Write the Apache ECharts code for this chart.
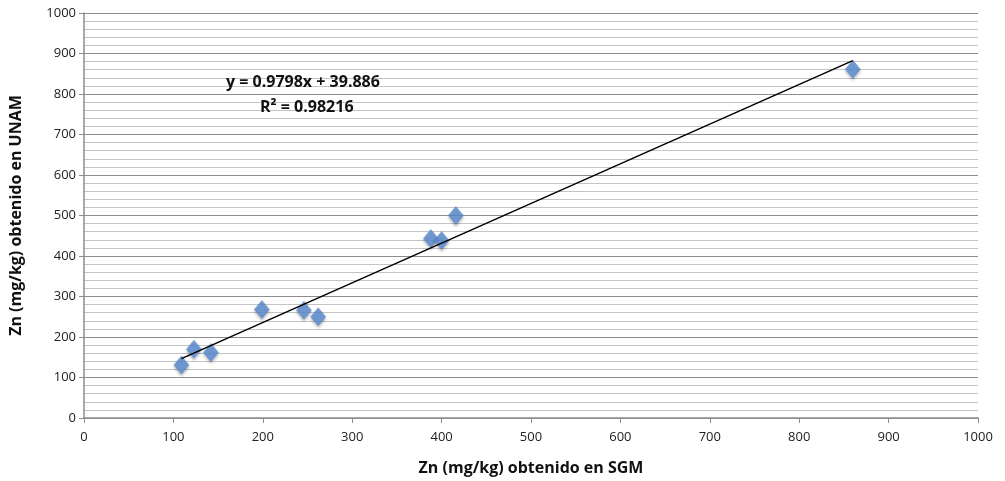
<!DOCTYPE html>
<html>
<head>
<meta charset="utf-8">
<script src="https://cdn.jsdelivr.net/npm/echarts@6/dist/echarts.min.js"></script>
<style>
  html, body { margin: 0; padding: 0; background: #fff; }
  #chart { width: 1005px; height: 481px; }
</style>
</head>
<body>
<div id="chart"></div>
<script>
// Zn concentrations (mg/kg): SGM lab (x) vs UNAM lab (y)
const znSGM  = [109, 123, 142, 199, 246, 262, 388, 400, 416, 860];
const znUNAM = [131, 170, 162, 268, 266, 250, 443, 438, 500, 861];

// Linear trend reported for the data
const slope = 0.9798;
const intercept = 39.886;
const rSquared = 0.98216;

const axisTicks = [0, 100, 200, 300, 400, 500, 600, 700, 800, 900, 1000];

const xTitle = 'Zn (mg/kg) obtenido en SGM';
const yTitle = 'Zn (mg/kg) obtenido en UNAM';

const points = znSGM.map((x, i) => [x, znUNAM[i]]);
const xMin = Math.min(...znSGM);
const xMax = Math.max(...znSGM);
const trend = [[xMin, slope * xMin + intercept], [xMax, slope * xMax + intercept]];

const font = '"Open Sans", sans-serif';
const plainNumber = v => String(v);

const chart = echarts.init(document.getElementById('chart'));
chart.setOption({
  animation: false,
  backgroundColor: '#ffffff',
  grid: { left: 82, right: 27, top: 13, bottom: 62 },
  xAxis: {
    type: 'value',
    min: axisTicks[0],
    max: axisTicks[axisTicks.length - 1],
    interval: 100,
    name: xTitle,
    nameLocation: 'middle',
    nameGap: 42,
    nameTextStyle: { fontFamily: font, fontSize: 16, fontWeight: 'bold', color: '#111' },
    axisLine: { lineStyle: { color: '#8c8c8c', width: 1.5 } },
    axisTick: { show: true, inside: false, length: 5, lineStyle: { color: '#8c8c8c' } },
    axisLabel: { fontFamily: font, fontSize: 13, color: '#222', margin: 13, formatter: plainNumber },
    splitLine: { show: false }
  },
  yAxis: {
    type: 'value',
    min: axisTicks[0],
    max: axisTicks[axisTicks.length - 1],
    interval: 100,
    name: yTitle,
    nameLocation: 'middle',
    nameGap: 60,
    nameTextStyle: { fontFamily: font, fontSize: 16, fontWeight: 'bold', color: '#111' },
    axisLine: { show: true, lineStyle: { color: '#8c8c8c', width: 1.5 } },
    axisTick: { show: true, inside: false, length: 5, lineStyle: { color: '#8c8c8c' } },
    axisLabel: { fontFamily: font, fontSize: 13, color: '#222', margin: 8, formatter: plainNumber },
    splitLine: { show: true, lineStyle: { color: '#8e8e8e', width: 1 } },
    minorTick: { show: false, splitNumber: 5 },
    minorSplitLine: { show: true, lineStyle: { color: '#c4c4c4', width: 1 } }
  },
  series: [
    {
      type: 'scatter',
      data: points,
      symbol: 'diamond',
      symbolSize: [15, 18],
      itemStyle: {
        color: '#5b8fd6',
        borderColor: '#4a7fc8',
        borderWidth: 0.5,
        shadowColor: 'rgba(0,0,0,0.35)',
        shadowBlur: 3,
        shadowOffsetY: 2
      },
      z: 3
    },
    {
      type: 'line',
      data: trend,
      symbol: 'none',
      lineStyle: { color: '#000', width: 1.5 },
      z: 4
    }
  ],
  graphic: [
    {
      type: 'text',
      left: 226,
      top: 74,
      z: 10,
      style: {
        text: 'y = ' + slope + 'x + ' + intercept,
        font: 'bold 16px ' + font,
        fill: '#111'
      }
    },
    {
      type: 'text',
      left: 260,
      top: 99,
      z: 10,
      style: {
        text: 'R² = ' + rSquared,
        font: 'bold 16px ' + font,
        fill: '#111'
      }
    }
  ]
});
</script>
</body>
</html>
